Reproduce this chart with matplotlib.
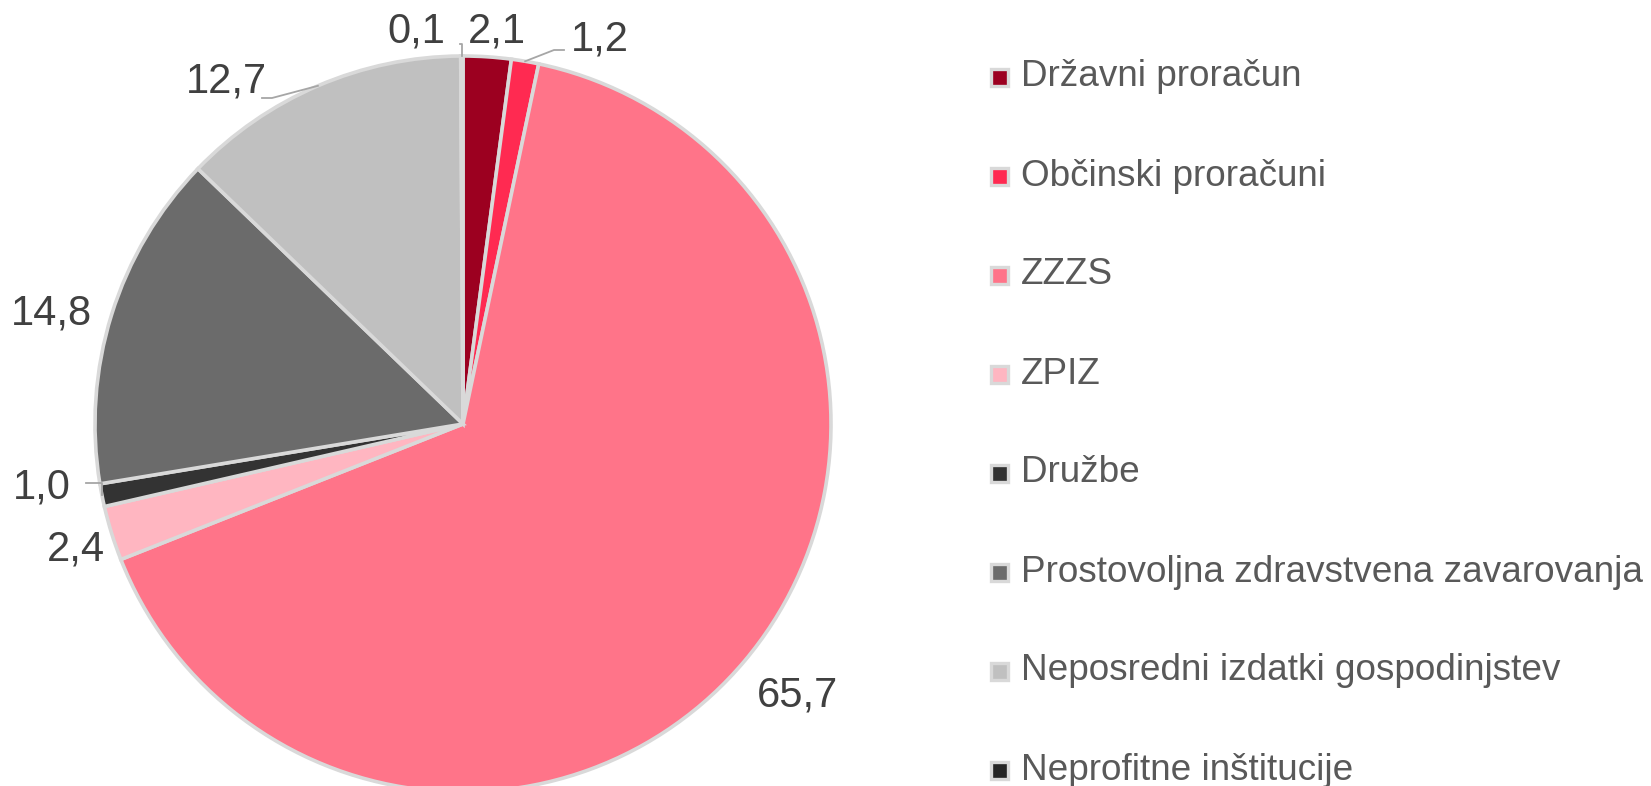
import matplotlib
matplotlib.use("Agg")
import matplotlib.pyplot as plt
from matplotlib.patches import Rectangle
import numpy as np

plt.rcParams['font.family'] = ['Liberation Sans', 'DejaVu Sans']

categories = ["Državni proračun", "Občinski proračuni", "ZZZS", "ZPIZ", "Družbe",
              "Prostovoljna zdravstvena zavarovanja", "Neposredni izdatki gospodinjstev",
              "Neprofitne inštitucije"]
values = [2.1, 1.2, 65.7, 2.4, 1.0, 14.8, 12.7, 0.1]
value_labels = ["2,1", "1,2", "65,7", "2,4", "1,0", "14,8", "12,7", "0,1"]
colors = ["#9c0020", "#ff2a51", "#ff7489", "#ffb6c1", "#333333", "#6b6b6b", "#c0c0c0", "#262626"]

W, H = 1651, 786
fig = plt.figure(figsize=(W / 100, H / 100), dpi=100)
ax = fig.add_axes([0, 0, 1, 1])

cx, cy, R = 463, H - 424, 368
wedges, _ = ax.pie(values, colors=colors, startangle=90, counterclock=False,
                   center=(cx, cy), radius=R, frame=True,
                   wedgeprops=dict(edgecolor='#d9d9d9', linewidth=2.6))
ax.set_xlim(0, W)
ax.set_ylim(0, H)
ax.set_aspect('equal')
ax.axis('off')

# label placements (text position relative to pie center, pixels), leader-line drop
label_pos = [(34, 392), (137, 384), (334, -271), (-387, -126), (-421, -64),
             (-412, 110), (-237, 342), (-47, 392)]
leader_drop = [None, 10, None, None, 10, None, 16, 0]

for w, lab, (dx, dy), ld in zip(wedges, value_labels, label_pos, leader_drop):
    tx, ty = cx + dx, cy + dy
    ax.text(tx, ty, lab, ha='center', va='center', fontsize=30, color='#404040')
    if ld is not None:
        mid = np.deg2rad((w.theta1 + w.theta2) / 2)
        ex, ey = cx + R * np.cos(mid), cy + R * np.sin(mid)
        side = 1 if ex > tx else -1
        hx = tx + side * 36
        hy = ty - ld
        if abs(ex - tx) < 60:
            ax.plot([ex, ex, hx + 8], [ey, ey + 12, ey + 12], color='#a6a6a6', lw=1.3)
        else:
            ax.plot([ex, hx + side * 10, hx], [ey, hy, hy], color='#a6a6a6', lw=1.3)

# legend
x0 = 991
y_top = H - 77
step = 99
for i, (c, name) in enumerate(zip(colors, categories)):
    y = y_top - i * step
    ax.add_patch(Rectangle((x0, y - 8.5), 17, 17, facecolor=c, edgecolor='#d9d9d9',
                           linewidth=2.4, clip_on=False))
    ax.text(x0 + 30, y, name, ha='left', va='center', fontsize=26.6, color='#595959')

fig.savefig("out.png", dpi=100)
